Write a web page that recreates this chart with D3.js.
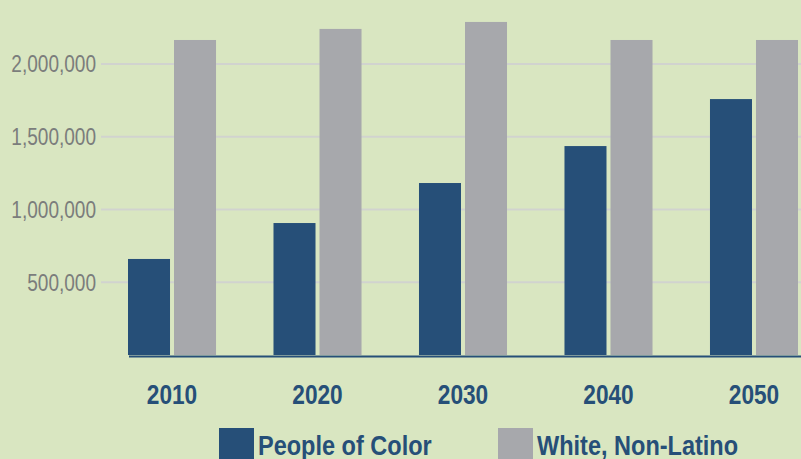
<!DOCTYPE html>
<html>
<head>
<meta charset="utf-8">
<script src="https://cdn.jsdelivr.net/npm/d3@7"></script>
<style>
  body { margin: 0; background: #d9e6c1; }
  svg { display: block; }
</style>
</head>
<body>
<div id="chart"></div>
<script>
const years = ["2010", "2020", "2030", "2040", "2050"];
const seriesNames = ["People of Color", "White, Non-Latino"];
const peopleOfColor = [660000, 907000, 1182000, 1436000, 1759000];
const whiteNonLatino = [2165000, 2241000, 2289000, 2165000, 2165000];
const yTicks = [500000, 1000000, 1500000, 2000000];

const width = 801, height = 459;
const colors = ["#264f78", "#a7a8ac"];
const font = "'Liberation Sans', Arial, sans-serif";
// no narrow font installed, so squeeze the text horizontally
const squeeze = 0.81;

const data = years.map((yr, i) => ({ year: yr, values: [peopleOfColor[i], whiteNonLatino[i]] }));

const svg = d3.select("#chart")
    .append("svg")
    .attr("width", width)
    .attr("height", height);

svg.append("rect")
    .attr("width", width)
    .attr("height", height)
    .attr("fill", "#d9e6c1");

const x0 = d3.scaleBand()
    .domain(years)
    .range([128, 798])
    .paddingInner(0.395)
    .paddingOuter(0);

const x1 = d3.scaleBand()
    .domain(seriesNames)
    .range([0, x0.bandwidth()])
    .paddingInner(0.087);

const y = d3.scaleLinear()
    .domain([0, 2000000])
    .range([355, 64]);

// gridlines + tick labels
const grid = svg.append("g");
grid.selectAll("line")
    .data(yTicks)
    .enter()
    .append("line")
    .attr("x1", 101)
    .attr("x2", width)
    .attr("y1", d => y(d))
    .attr("y2", d => y(d))
    .attr("stroke", "#d1d3cf")
    .attr("stroke-width", 2);

grid.selectAll("text")
    .data(yTicks)
    .enter()
    .append("text")
    .attr("transform", d => `translate(96,${y(d)}) scale(${squeeze},1)`)
    .attr("dy", "0.36em")
    .attr("text-anchor", "end")
    .style("font-family", font)
    .style("font-size", "23.5px")
    .style("fill", "#7b7d7c")
    .text(d => d3.format(",")(d));

// bars
svg.append("g")
    .selectAll("g")
    .data(data)
    .enter()
    .append("g")
    .attr("transform", d => `translate(${x0(d.year)},0)`)
    .selectAll("rect")
    .data(d => d.values.map((v, i) => ({ key: seriesNames[i], value: v, i: i })))
    .enter()
    .append("rect")
    .attr("x", d => x1(d.key))
    .attr("y", d => y(d.value))
    .attr("width", x1.bandwidth())
    .attr("height", d => y(0) - y(d.value))
    .attr("fill", d => colors[d.i]);

// baseline
svg.append("line")
    .attr("x1", 129)
    .attr("x2", width)
    .attr("y1", y(0) + 1.5)
    .attr("y2", y(0) + 1.5)
    .attr("stroke", "#264f78")
    .attr("stroke-width", 2);

// x labels
svg.append("g")
    .selectAll("text")
    .data(years)
    .enter()
    .append("text")
    .attr("transform", d => `translate(${x0(d) + x0.bandwidth() / 2},404) scale(${squeeze},1)`)
    .attr("text-anchor", "middle")
    .style("font-family", font)
    .style("font-weight", "bold")
    .style("font-size", "28px")
    .style("fill", "#264f78")
    .text(d => d);

// legend
const legendX = [219, 498];
const legend = svg.append("g");
legend.selectAll("rect")
    .data(seriesNames)
    .enter()
    .append("rect")
    .attr("x", (d, i) => legendX[i])
    .attr("y", 428)
    .attr("width", 35)
    .attr("height", 35)
    .attr("fill", (d, i) => colors[i]);

legend.selectAll("text")
    .data(seriesNames)
    .enter()
    .append("text")
    .attr("transform", (d, i) => `translate(${legendX[i] + 39},455) scale(0.84,1)`)
    .style("font-family", font)
    .style("font-weight", "bold")
    .style("font-size", "28px")
    .style("fill", "#264f78")
    .text(d => d);
</script>
</body>
</html>
